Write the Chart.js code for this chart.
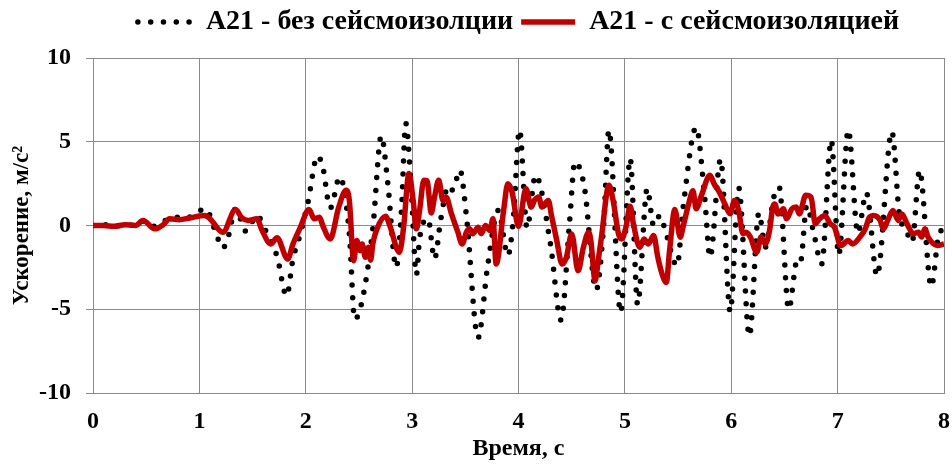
<!DOCTYPE html>
<html lang="ru">
<head>
<meta charset="utf-8">
<title>А21 — ускорение</title>
<script src="https://cdn.jsdelivr.net/npm/chart.js@4.4.1/dist/chart.umd.min.js"></script>
<style>
  html, body { margin: 0; padding: 0; background: #ffffff; }
  #wrap { width: 952px; height: 464px; }
</style>
</head>
<body>
<div id="wrap"><canvas id="chart" width="952" height="464"></canvas></div>
<script>
// Series labels
const seriesNames = ['А21 - без сейсмоизолции', 'А21 - с сейсмоизоляцией'];

// Axis ticks
const timeTicks = [0, 1, 2, 3, 4, 5, 6, 7, 8];
const accelTicks = [-10, -5, 0, 5, 10];

// А21 without base isolation: time, s / acceleration, m/s²
const timeFree = [
  0.00, 0.10, 0.20, 0.30, 0.40, 0.47, 0.55, 0.62, 0.72, 0.80, 0.88, 0.97,
  1.06, 1.15, 1.22, 1.27, 1.34, 1.44, 1.54, 1.63, 1.73, 1.82, 1.88, 1.94,
  2.02, 2.11, 2.16, 2.23, 2.32, 2.41, 2.46, 2.53, 2.63, 2.71, 2.77, 2.85,
  2.90, 2.94, 2.99, 3.04, 3.07, 3.15, 3.21, 3.27, 3.34, 3.38, 3.45, 3.51,
  3.62, 3.71, 3.81, 3.90, 3.95, 4.01, 4.08, 4.16, 4.30, 4.40, 4.48, 4.53,
  4.62, 4.73, 4.80, 4.85, 4.96, 5.05, 5.12, 5.21, 5.27, 5.33, 5.38, 5.49,
  5.55, 5.67, 5.75, 5.80, 5.90, 5.99, 6.07, 6.17, 6.26, 6.32, 6.40, 6.45,
  6.54, 6.62, 6.65, 6.71, 6.78, 6.85, 6.94, 7.01, 7.10, 7.19, 7.27, 7.37,
  7.51, 7.58, 7.64, 7.70, 7.77, 7.88, 7.96, 8.00
];
const accelFree = [
  0.00, 0.05, -0.05, 0.05, 0.00, 0.25, -0.05, 0.05, 0.45, 0.50, 0.45, 0.77,
  1.00, -0.34, -1.35, -0.70, 1.00, -0.35, 0.60, -0.40, -1.84, -4.20, -2.00, -0.70,
  1.35, 4.15, 3.50, 1.05, 2.90, -0.50, -5.60, -4.50, -0.20, 5.35, 2.60, -2.50,
  0.90, 6.10, 2.37, -2.95, -0.79, 0.40, -2.00, 0.40, 2.37, 2.11, 3.30, 0.59,
  -6.70, -2.41, 0.90, -1.80, 0.30, 5.70, -0.15, 3.00, -1.09, -5.65, 0.20, 3.80,
  2.27, -3.85, 0.00, 5.70, -5.20, 4.00, -4.72, 2.20, 0.00, 0.60, -0.30, -2.40,
  1.20, 5.85, 1.70, -1.90, 3.95, -5.15, 2.25, -6.60, 0.75, -1.30, 1.70, 2.30,
  -5.00, -2.07, -2.20, 1.20, -0.60, -2.30, 5.10, -1.75, 5.70, -0.45, 1.95, -3.00,
  5.60, 0.69, -0.20, -1.00, 3.30, -3.65, -0.34, -0.30
];

// А21 with base isolation: time, s / acceleration, m/s²
const timeIso = [
  0.00, 0.10, 0.20, 0.30, 0.40, 0.47, 0.58, 0.66, 0.72, 0.81, 0.91, 1.05,
  1.10, 1.22, 1.34, 1.40, 1.46, 1.54, 1.59, 1.67, 1.73, 1.83, 1.88, 1.95,
  2.03, 2.08, 2.13, 2.16, 2.23, 2.31, 2.38, 2.41, 2.45, 2.48, 2.51, 2.53,
  2.56, 2.59, 2.61, 2.63, 2.67, 2.75, 2.79, 2.88, 2.92, 2.97, 3.01, 3.04,
  3.07, 3.11, 3.14, 3.18, 3.21, 3.25, 3.29, 3.32, 3.37, 3.43, 3.47, 3.51,
  3.54, 3.57, 3.62, 3.65, 3.69, 3.73, 3.76, 3.79, 3.86, 3.90, 3.94, 4.00,
  4.07, 4.12, 4.15, 4.19, 4.22, 4.28, 4.31, 4.36, 4.41, 4.45, 4.50, 4.56,
  4.61, 4.66, 4.68, 4.72, 4.75, 4.78, 4.85, 4.89, 4.94, 4.97, 5.01, 5.05,
  5.08, 5.14, 5.18, 5.22, 5.27, 5.31, 5.35, 5.39, 5.42, 5.47, 5.52, 5.55,
  5.60, 5.64, 5.67, 5.72, 5.80, 5.84, 5.89, 5.94, 5.99, 6.03, 6.07, 6.11,
  6.14, 6.18, 6.24, 6.28, 6.32, 6.36, 6.39, 6.41, 6.44, 6.49, 6.52, 6.57,
  6.61, 6.64, 6.70, 6.75, 6.79, 6.83, 6.88, 6.93, 6.97, 7.03, 7.10, 7.14,
  7.21, 7.26, 7.30, 7.34, 7.40, 7.43, 7.47, 7.52, 7.57, 7.60, 7.66, 7.71,
  7.76, 7.79, 7.82, 7.85, 7.90, 7.94, 8.00
];
const accelIso = [
  0.00, 0.00, -0.05, 0.05, 0.00, 0.30, -0.20, 0.05, 0.40, 0.35, 0.45, 0.60,
  0.40, -0.40, 0.95, 0.45, 0.30, 0.40, -0.30, -1.10, -0.73, -2.00, -1.10, -0.10,
  0.95, 0.40, 0.49, 0.00, -0.80, 1.10, 2.10, 1.48, -2.10, -0.90, -1.50, -1.10,
  -1.90, -1.30, -2.07, -1.10, -0.20, 0.55, 0.00, -1.60, -0.10, 3.10, 1.48, -0.20,
  0.89, 2.70, 2.67, 0.75, 1.68, 2.70, 1.48, 1.68, 0.69, -0.40, -1.10, -0.40,
  -0.20, -0.49, -0.10, -0.49, 0.00, -0.30, 0.40, -2.30, 0.89, 2.50, 1.98, -0.05,
  2.20, 1.10, 1.50, 1.70, 1.10, 1.50, 0.60, -0.90, -2.30, -1.90, -0.50, -2.70,
  -1.30, -0.40, -0.90, -3.30, -2.07, -0.69, 2.40, 1.48, -0.49, -0.80, -0.10, 1.15,
  0.10, -1.30, -0.80, -1.10, -0.60, -1.90, -2.90, -3.40, -1.50, 0.95, -0.70, 0.00,
  1.30, 2.07, 1.00, 1.80, 3.00, 2.47, 1.98, 1.28, 0.70, 1.50, 0.89, -0.49,
  -0.40, -0.69, -1.60, -0.69, -1.10, -0.30, 1.09, 1.28, 0.69, 1.00, 0.40, 1.00,
  1.10, 0.69, 1.80, 1.70, 0.10, 0.40, 0.60, 0.10, -0.10, -1.20, -0.89, -1.10,
  -0.69, -0.20, 0.50, 0.60, 0.30, -0.20, 0.30, 0.90, 0.30, 0.69, 0.00, -0.49,
  -0.40, -0.69, -0.20, -0.69, -1.09, -1.20, -1.10
];

const toPoints = (xs, ys) => xs.map((x, i) => ({ x, y: ys[i] }));

const serif = '"Liberation Serif", "Times New Roman", serif';
const gridGray = '#8a8a8a';

// Make room between the legend row and the plot
const legendSpacing = {
  id: 'legendSpacing',
  beforeLayout(chart) {
    const legend = chart.legend;
    if (!legend || legend._spaced) return;
    const fit = legend.fit;
    legend.fit = function () { fit.call(this); this.height += 12; };
    legend._spaced = true;
  }
};

// Legend samples drawn as short lines in each series' own stroke style
function lineLegendLabels(chart) {
  const items = Chart.defaults.plugins.legend.labels.generateLabels(chart);
  items.forEach(item => {
    const ds = chart.data.datasets[item.datasetIndex];
    item.pointStyle = 'line';
    item.strokeStyle = ds.borderColor;
    item.fillStyle = ds.borderColor;
    item.lineWidth = ds.borderWidth;
    item.lineDash = ds.borderDash || [];
    item.lineCap = ds.borderCapStyle || 'butt';
  });
  return items;
}

new Chart(document.getElementById('chart'), {
  type: 'line',
  data: {
    datasets: [
      {
        label: seriesNames[0],
        data: toPoints(timeFree, accelFree),
        borderColor: '#000000',
        backgroundColor: '#000000',
        borderWidth: 5.5,
        borderDash: [0, 12.8],
        borderCapStyle: 'round',
        cubicInterpolationMode: 'monotone',
        pointRadius: 0,
        fill: false,
        order: 1
      },
      {
        label: seriesNames[1],
        data: toPoints(timeIso, accelIso),
        borderColor: '#c00000',
        backgroundColor: '#c00000',
        borderWidth: 5.5,
        borderCapStyle: 'butt',
        borderJoinStyle: 'round',
        cubicInterpolationMode: 'monotone',
        pointRadius: 0,
        fill: false,
        order: 0
      }
    ]
  },
  options: {
    responsive: false,
    animation: false,
    devicePixelRatio: 1,
    layout: { padding: { left: 0, right: 8, top: 0, bottom: 0 } },
    plugins: {
      legend: {
        display: true,
        position: 'top',
        fullSize: false,
        labels: {
          usePointStyle: true,
          pointStyleWidth: 54,
          padding: 8,
          color: '#000000',
          font: { family: serif, size: 28, weight: 'bold' },
          generateLabels: lineLegendLabels,
          sort: (a, b) => a.datasetIndex - b.datasetIndex
        }
      },
      tooltip: { enabled: false }
    },
    scales: {
      x: {
        type: 'linear',
        min: timeTicks[0],
        max: timeTicks[timeTicks.length - 1],
        afterBuildTicks: (scale) => { scale.ticks = timeTicks.map(v => ({ value: v })); },
        afterFit: (scale) => { scale.height = 71; },
        grid: { color: gridGray, lineWidth: 1, drawTicks: true, tickLength: 14, tickColor: 'rgba(0,0,0,0)' },
        border: { color: gridGray, width: 1 },
        ticks: {
          padding: 0,
          color: '#000000',
          font: { family: serif, size: 24, weight: 'bold' }
        },
        title: {
          display: true,
          text: 'Время, с',
          color: '#000000',
          padding: { top: 0, bottom: 1 },
          font: { family: serif, size: 24, weight: 'bold' }
        }
      },
      y: {
        type: 'linear',
        min: accelTicks[0],
        max: accelTicks[accelTicks.length - 1],
        afterBuildTicks: (scale) => { scale.ticks = accelTicks.map(v => ({ value: v })); },
        afterFit: (scale) => { scale.width = 93; },
        grid: { color: gridGray, lineWidth: 1, drawTicks: true, tickLength: 7 },
        border: { color: gridGray, width: 1 },
        ticks: {
          padding: 15,
          color: '#000000',
          font: { family: serif, size: 24, weight: 'bold' }
        },
        title: {
          display: true,
          text: 'Ускорение, м/с²',
          color: '#000000',
          padding: { top: 8, bottom: 3 },
          font: { family: serif, size: 23, weight: 'bold' }
        }
      }
    }
  },
  plugins: [legendSpacing]
});
</script>
</body>
</html>
